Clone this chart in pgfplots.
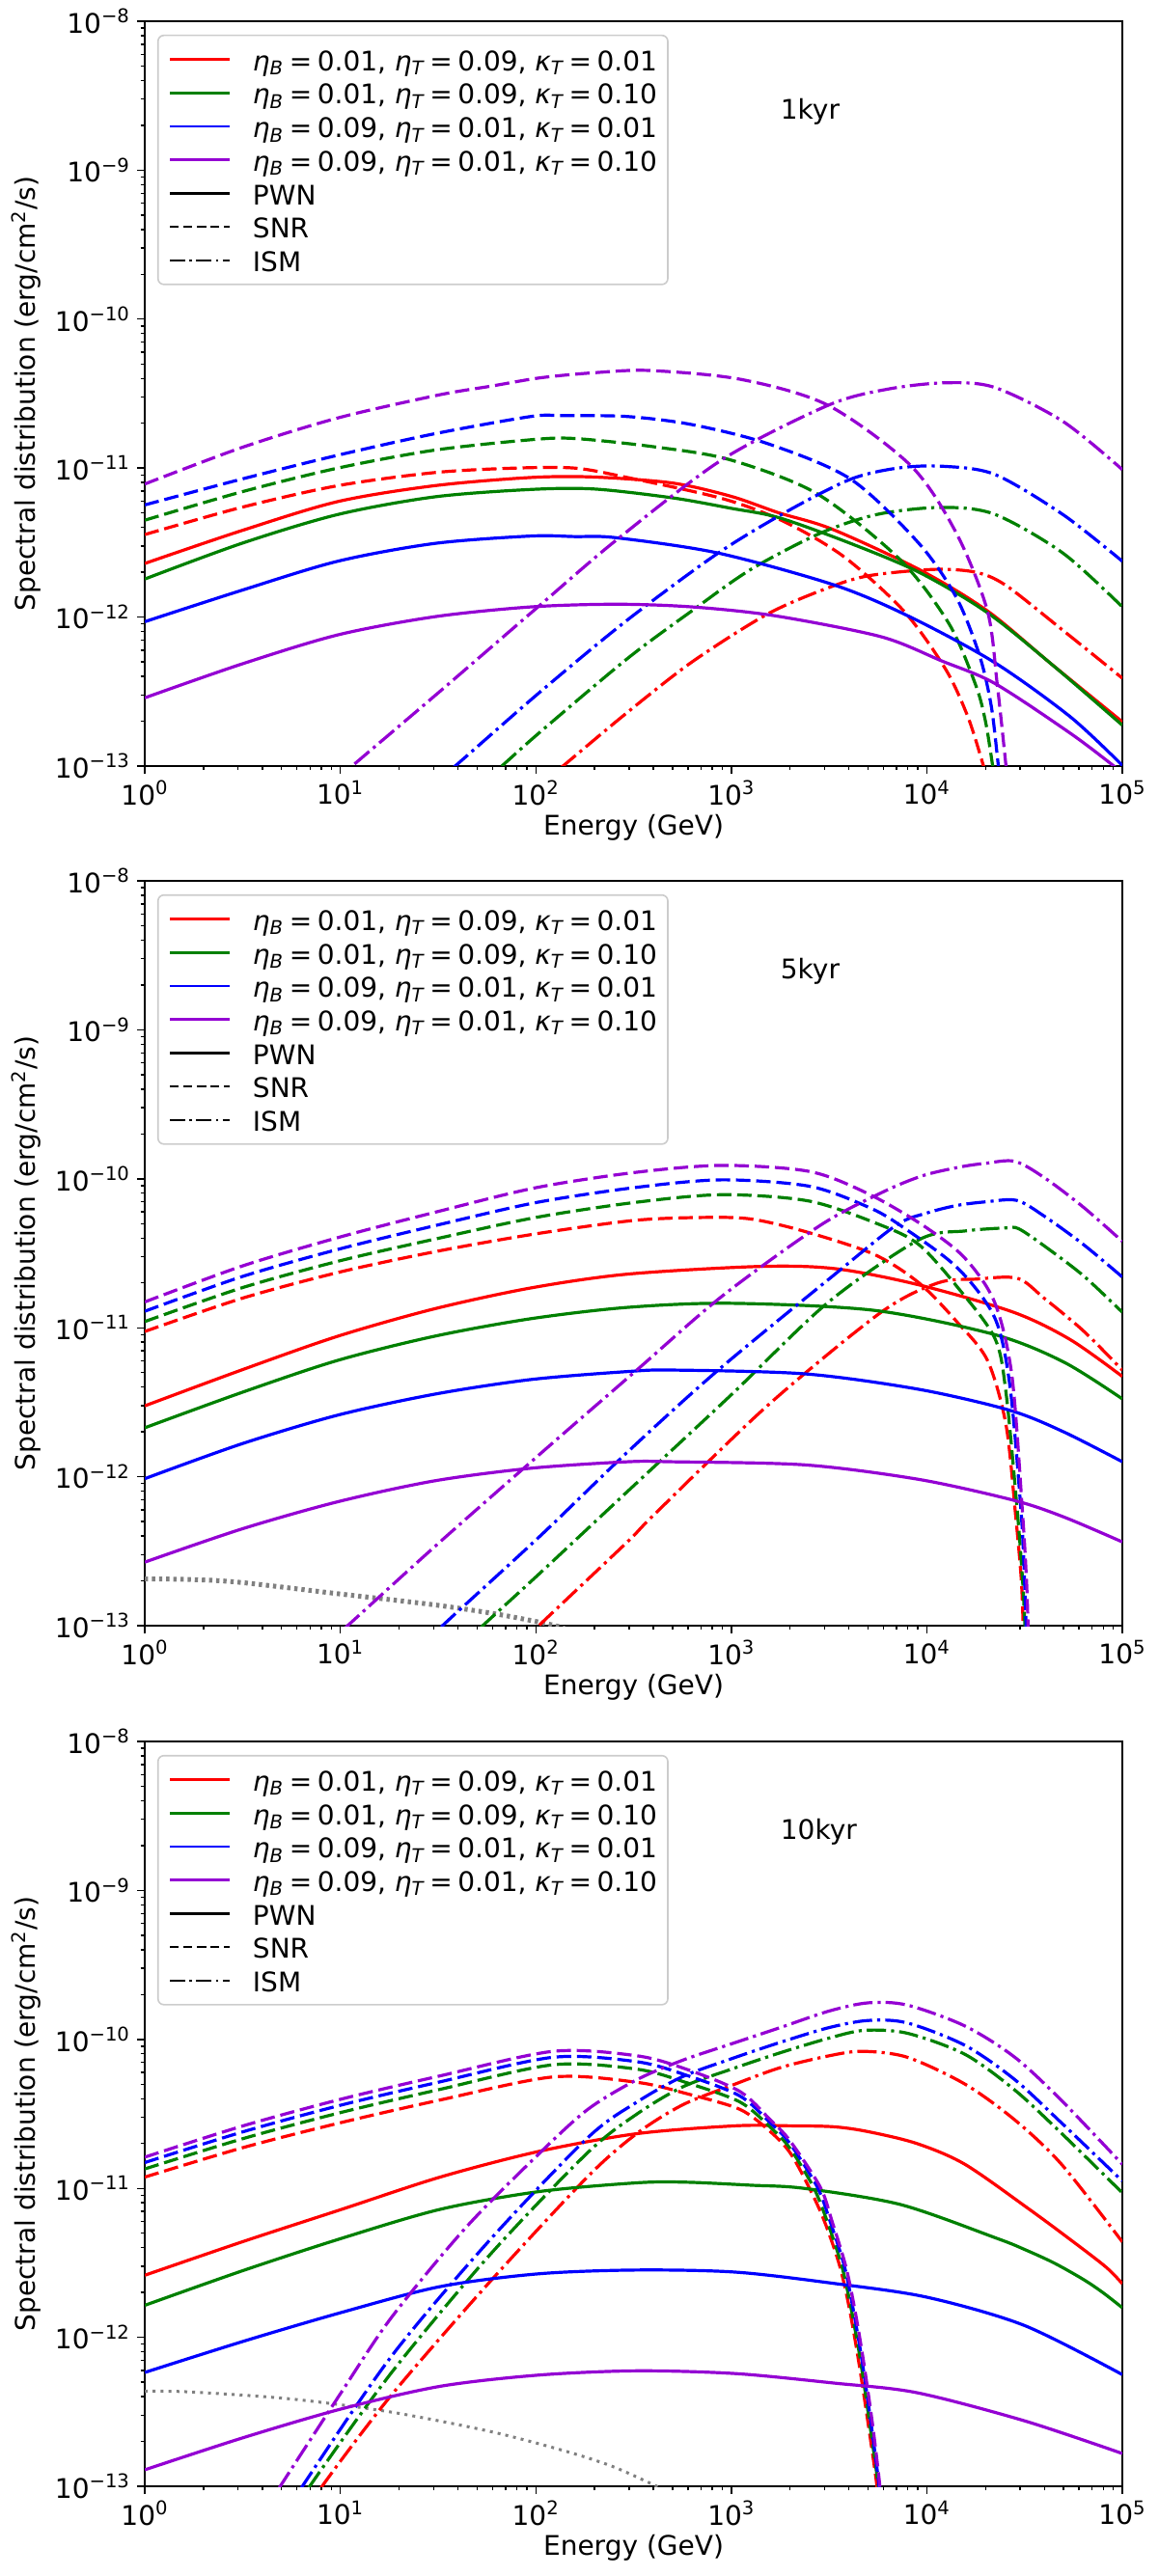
\documentclass[border=0pt]{standalone}
\usepackage{fontspec}
\setmainfont{DejaVu Sans}[ItalicFont={DejaVu Sans Oblique}]
\usepackage{pgfplots}
\pgfplotsset{compat=1.18}

\definecolor{mplgreen}{HTML}{008000}
\definecolor{mplpurple}{HTML}{9400D3}
\definecolor{mplgray}{HTML}{808080}

\newcommand{\eB}{{\itshape η}\textsubscript{\itshape B}}
\newcommand{\eT}{{\itshape η}\textsubscript{\itshape T}}
\newcommand{\kT}{{\itshape κ}\textsubscript{\itshape T}}
\newcommand{\eq}{\hspace{0.2em}=\hspace{0.2em}}

% legend: four parameter sets (colour) and three components (line style)
\newcommand{\legendentries}{%
  \addlegendimage{red, line width=1.3pt}
  \addlegendentry{\eB\eq0.01, \eT\eq0.09, \kT\eq0.01}
  \addlegendimage{mplgreen, line width=1.3pt}
  \addlegendentry{\eB\eq0.01, \eT\eq0.09, \kT\eq0.10}
  \addlegendimage{blue, line width=1.3pt}
  \addlegendentry{\eB\eq0.09, \eT\eq0.01, \kT\eq0.01}
  \addlegendimage{mplpurple, line width=1.3pt}
  \addlegendentry{\eB\eq0.09, \eT\eq0.01, \kT\eq0.10}
  \addlegendimage{black, line width=1.3pt}
  \addlegendentry{PWN}
  \addlegendimage{black, line width=1.3pt, dash pattern=on 4.7pt off 2.3pt}
  \addlegendentry{SNR}
  \addlegendimage{black, line width=1.3pt, dash pattern=on 8pt off 2.2pt on 1.3pt off 2.2pt}
  \addlegendentry{ISM}
}

\pgfplotsset{
  every axis/.append style={
    anchor=south west,
    width=506.5pt, height=386pt, scale only axis,
    xmin=1, xmax=1e5, ymin=1e-13, ymax=1e-8,
    xtick={1,10,100,1000,10000,100000},
    xticklabels={10\textsuperscript{0},10\textsuperscript{1},10\textsuperscript{2},10\textsuperscript{3},10\textsuperscript{4},10\textsuperscript{5}},
    minor xtick={2,3,4,5,6,7,8,9,20,30,40,50,60,70,80,90,200,300,400,500,600,700,800,900,2000,3000,4000,5000,6000,7000,8000,9000,20000,30000,40000,50000,60000,70000,80000,90000},
    ytick={1e-13,1e-12,1e-11,1e-10,1e-9,1e-8},
    yticklabels={10\textsuperscript{−13},10\textsuperscript{−12},10\textsuperscript{−11},10\textsuperscript{−10},10\textsuperscript{−9},10\textsuperscript{−8}},
    minor ytick={2e-13,3e-13,4e-13,5e-13,6e-13,7e-13,8e-13,9e-13,2e-12,3e-12,4e-12,5e-12,6e-12,7e-12,8e-12,9e-12,2e-11,3e-11,4e-11,5e-11,6e-11,7e-11,8e-11,9e-11,2e-10,3e-10,4e-10,5e-10,6e-10,7e-10,8e-10,9e-10,2e-9,3e-9,4e-9,5e-9,6e-9,7e-9,8e-9,9e-9},
    tick align=outside, tick pos=left,
    major tick length=4pt, minor tick length=2.2pt,
    tick style={black, line width=0.7pt},
    axis line style={line width=0.8pt},
    ticklabel style={font=\fontsize{14}{16}\selectfont},
    xlabel={Energy (GeV)},
    ylabel={Spectral distribution (erg/cm\textsuperscript{2}/s)},
    every axis x label/.style={at={(axis description cs:0.5,-0.083)}, anchor=center, font=\fontsize{14}{16}\selectfont},
    every axis y label/.style={at={(axis description cs:-0.1214,0.5)}, rotate=90, anchor=center, font=\fontsize{14}{16}\selectfont},
    legend cell align=left,
    legend image post style={xscale=1.816},
    legend style={at={(0.0128,0.982)}, anchor=north west,
      draw=black!20, line width=0.8pt, rounded corners=3pt, fill=white,
      font=\fontsize{14}{16}\selectfont,
      inner xsep=5.5pt, inner ysep=3.8pt, row sep=0pt, column sep=11.3pt,
      nodes={inner xsep=0pt, inner ysep=0pt, text height=14.5pt, text depth=2.85pt}},
  },
}

\begin{document}
\begin{tikzpicture}
\useasboundingbox (0,0) rectangle (600pt,1335pt);

% ---------------- 1 kyr ----------------
\begin{loglogaxis}[at={(75pt,938pt)}]
\legendentries
\addplot[red, line width=1.6pt, smooth, forget plot] coordinates {(1,2.29e-12)(3.12,3.80e-12)(9.70,5.96e-12)(30.3,7.62e-12)(94.2,8.65e-12)(199.5,8.71e-12)(501,7.94e-12)(1000,6.46e-12)(1750,5.01e-12)(3266,3.90e-12)(9120,2.09e-12)(20420,1.10e-12)(43450,4.83e-13)(100000,1.98e-13)};
\addplot[red, line width=1.6pt, smooth, forget plot, dash pattern=on 7.5pt off 3pt] coordinates {(1,3.58e-12)(3.12,5.45e-12)(9.70,7.62e-12)(30.3,9.33e-12)(78.0,1.00e-11)(158.5,1.00e-11)(293.8,8.65e-12)(897.5,6.25e-12)(1832,4.42e-12)(3741,2.56e-12)(7621,1.10e-12)(12450,4.49e-13)(16220,2.14e-13)(19500,1.0e-13)(20420,7.9e-14)};
\addplot[red, line width=1.6pt, smooth, forget plot, dash pattern=on 10pt off 2.6pt on 1.6pt off 2.6pt] coordinates {(100,7.1e-14)(137.7,1e-13)(293.8,2.29e-13)(631,5.01e-13)(1535,1.05e-12)(3162,1.58e-12)(5105,1.90e-12)(10890,2.09e-12)(17780,2.00e-12)(25410,1.63e-12)(49660,8.15e-13)(100000,3.89e-13)};
\addplot[mplgreen, line width=1.6pt, smooth, forget plot] coordinates {(1,1.80e-12)(3.12,3.12e-12)(9.70,4.88e-12)(30.3,6.41e-12)(94.2,7.19e-12)(199.5,7.24e-12)(502,6.31e-12)(1000,5.37e-12)(1750,4.65e-12)(3981,3.16e-12)(9120,2.00e-12)(20420,1.07e-12)(44670,4.68e-13)(100000,1.88e-13)};
\addplot[mplgreen, line width=1.6pt, smooth, forget plot, dash pattern=on 7.5pt off 3pt] coordinates {(1,4.47e-12)(3.12,6.92e-12)(9.70,1.00e-11)(30.3,1.32e-11)(94.2,1.55e-11)(158.5,1.58e-11)(402.7,1.39e-11)(979.5,1.14e-11)(2735,6.75e-12)(7295,2.43e-12)(13000,9.00e-13)(17780,3.50e-13)(19950,2.00e-13)(21730,1.0e-13)(22910,6.3e-14)};
\addplot[mplgreen, line width=1.6pt, smooth, forget plot, dash pattern=on 10pt off 2.6pt on 1.6pt off 2.6pt] coordinates {(50.1,7.2e-14)(67.0,1e-13)(105.7,1.70e-13)(293.8,5.26e-13)(628.1,1.10e-12)(1259,2.09e-12)(2858,3.66e-12)(5623,4.90e-12)(11910,5.45e-12)(22230,4.90e-12)(49660,2.69e-12)(100000,1.17e-12)};
\addplot[blue, line width=1.6pt, smooth, forget plot] coordinates {(1,9.31e-13)(3.12,1.51e-12)(9.70,2.37e-12)(30.3,3.12e-12)(94.2,3.50e-12)(158.5,3.47e-12)(257.6,3.41e-12)(857,2.69e-12)(3420,1.63e-12)(8337,9.93e-13)(22230,4.95e-13)(54200,2.14e-13)(100000,1.01e-13)};
\addplot[blue, line width=1.6pt, smooth, forget plot, dash pattern=on 7.5pt off 3pt] coordinates {(1,5.66e-12)(3.12,8.43e-12)(9.70,1.22e-11)(30.3,1.70e-11)(94.2,2.22e-11)(138,2.25e-11)(293.8,2.22e-11)(628.1,1.96e-11)(1535,1.46e-11)(4083,8.43e-12)(9120,3.12e-12)(14220,1.34e-12)(18620,5.50e-13)(21380,2.51e-13)(23230,1.0e-13)(24270,6.3e-14)};
\addplot[blue, line width=1.6pt, smooth, forget plot, dash pattern=on 10pt off 2.6pt on 1.6pt off 2.6pt] coordinates {(28.2,7.08e-14)(38.7,1e-13)(105.7,3.16e-13)(293.8,9.55e-13)(857,2.69e-12)(1995,5.25e-12)(4083,8.43e-12)(7079,1.00e-11)(11910,1.03e-11)(22230,9.08e-12)(49660,4.88e-12)(100000,2.37e-12)};
\addplot[mplpurple, line width=1.6pt, smooth, forget plot] coordinates {(1,2.87e-13)(3.12,4.83e-13)(9.70,7.59e-13)(30.3,1.005e-12)(94.2,1.17e-12)(257.6,1.22e-12)(631,1.17e-12)(1675,1.02e-12)(5834,7.38e-13)(11910,5.08e-13)(22230,3.59e-13)(54200,1.66e-13)(90570,1.0e-13)(100000,9.0e-14)};
\addplot[mplpurple, line width=1.6pt, smooth, forget plot, dash pattern=on 7.5pt off 3pt] coordinates {(1,7.82e-12)(3.162,1.38e-11)(9.70,2.17e-11)(31.6,3.09e-11)(59.8,3.56e-11)(105.7,4.04e-11)(199.5,4.37e-11)(384.6,4.52e-11)(1122,3.94e-11)(3126,2.64e-11)(8337,1.03e-11)(14220,3.62e-12)(20420,1.10e-12)(22910,3.55e-13)(25410,1.0e-13)(26300,6.3e-14)};
\addplot[mplpurple, line width=1.6pt, smooth, forget plot, dash pattern=on 10pt off 2.6pt on 1.6pt off 2.6pt] coordinates {(8.9,7.4e-14)(11.5,1e-13)(31.6,3.09e-13)(105.7,1.21e-12)(257.6,3.28e-12)(897.5,1.14e-11)(3126,2.64e-11)(6310,3.39e-11)(12470,3.74e-11)(22230,3.48e-11)(49660,2.06e-11)(100000,9.77e-12)};
\node[anchor=base west, inner sep=0pt, font=\fontsize{14}{16}\selectfont] at (axis cs:1780,2.2e-9) {1kyr};
\end{loglogaxis}

% ---------------- 5 kyr ----------------
\begin{loglogaxis}[at={(75pt,492.5pt)}]
\legendentries
\addplot[mplgray, line width=2.5pt, smooth, forget plot, dash pattern=on 1.7pt off 2pt] coordinates {(1,2.06e-13)(1.778,2.04e-13)(3.12,1.95e-13)(9.70,1.64e-13)(30.3,1.38e-13)(64.6,1.19e-13)(126,1.0e-13)(158.5,8.9e-14)};
\addplot[red, line width=1.6pt, smooth, forget plot] coordinates {(1,2.99e-12)(3.12,5.20e-12)(9.70,8.77e-12)(30.3,1.34e-11)(94.2,1.85e-11)(293.8,2.29e-11)(1403,2.58e-11)(3420,2.49e-11)(9120,1.94e-11)(27800,1.27e-11)(54200,8.32e-12)(100000,4.71e-12)};
\addplot[red, line width=1.6pt, smooth, forget plot, dash pattern=on 7.5pt off 3pt] coordinates {(1,9.44e-12)(3.162,1.58e-11)(10,2.37e-11)(31.6,3.27e-11)(100,4.27e-11)(316.2,5.25e-11)(707.9,5.50e-11)(1259,5.37e-11)(2393,4.42e-11)(5346,3.12e-11)(9120,2.00e-11)(14220,1.10e-11)(20420,6.04e-12)(25410,2.23e-12)(28440,5.56e-13)(30410,2.06e-13)(31120,1.0e-13)(31620,6.0e-14)};
\addplot[red, line width=1.6pt, smooth, forget plot, dash pattern=on 10pt off 2.6pt on 1.6pt off 2.6pt] coordinates {(79.4,7.1e-14)(103.5,1e-13)(293.8,3.65e-13)(402.7,5.56e-13)(1535,3.01e-12)(5834,1.27e-11)(11400,2.00e-11)(17820,2.12e-11)(29040,2.15e-11)(39810,1.58e-11)(63100,9.55e-12)(100000,5.20e-12)};
\addplot[mplgreen, line width=1.6pt, smooth, forget plot] coordinates {(1,2.13e-12)(3.12,3.67e-12)(9.70,6.04e-12)(30.3,8.77e-12)(94.2,1.15e-11)(293.8,1.37e-11)(979.5,1.46e-11)(5346,1.31e-11)(22230,9.00e-12)(50120,5.89e-12)(100000,3.33e-12)};
\addplot[mplgreen, line width=1.6pt, smooth, forget plot, dash pattern=on 7.5pt off 3pt] coordinates {(1,1.10e-11)(3.162,1.86e-11)(10,2.82e-11)(31.6,3.98e-11)(100,5.50e-11)(316.2,6.92e-11)(891,7.82e-11)(2512,7.08e-11)(5834,4.88e-11)(9120,3.61e-11)(14220,1.90e-11)(22230,8.55e-12)(25410,3.67e-12)(29110,5.62e-13)(30900,2.00e-13)(31770,1.0e-13)(32360,6.0e-14)};
\addplot[mplgreen, line width=1.6pt, smooth, forget plot, dash pattern=on 10pt off 2.6pt on 1.6pt off 2.6pt] coordinates {(39.8,6.9e-14)(53.5,1e-13)(105.7,2.27e-13)(293.8,7.94e-13)(1000,3.55e-12)(3126,1.48e-11)(9120,3.90e-11)(15850,4.47e-11)(25410,4.68e-11)(29510,4.62e-11)(39810,3.55e-11)(63100,2.24e-11)(100000,1.27e-11)};
\addplot[blue, line width=1.6pt, smooth, forget plot] coordinates {(1,9.70e-13)(3.12,1.66e-12)(9.70,2.59e-12)(30.3,3.58e-12)(94.2,4.49e-12)(293.8,5.08e-12)(502.3,5.20e-12)(2393,4.90e-12)(9120,3.86e-12)(26610,2.79e-12)(50120,2.00e-12)(100000,1.26e-12)};
\addplot[blue, line width=1.6pt, smooth, forget plot, dash pattern=on 7.5pt off 3pt] coordinates {(1,1.29e-11)(3.162,2.21e-11)(10,3.39e-11)(31.6,4.90e-11)(100,6.92e-11)(316.2,8.71e-11)(891,9.84e-11)(2512,8.91e-11)(5012,6.46e-11)(7295,4.88e-11)(14220,2.55e-11)(22230,1.17e-11)(26610,4.07e-12)(30410,5.62e-13)(31620,2.00e-13)(32210,1.0e-13)(32730,6.0e-14)};
\addplot[blue, line width=1.6pt, smooth, forget plot, dash pattern=on 10pt off 2.6pt on 1.6pt off 2.6pt] coordinates {(25.1,6.9e-14)(33.3,1e-13)(105.7,4.02e-13)(293.8,1.46e-12)(857,5.20e-12)(3420,2.31e-11)(6982,4.88e-11)(10000,5.89e-11)(14130,6.61e-11)(19950,7.00e-11)(28840,7.16e-11)(39810,5.62e-11)(63100,3.63e-11)(100000,2.19e-11)};
\addplot[mplpurple, line width=1.6pt, smooth, forget plot] coordinates {(1,2.67e-13)(3.12,4.45e-13)(9.70,6.79e-13)(30.3,9.38e-13)(94.2,1.14e-12)(293.8,1.26e-12)(502.3,1.26e-12)(2393,1.20e-12)(9120,9.59e-13)(27800,6.95e-13)(50120,5.37e-13)(100000,3.65e-13)};
\addplot[mplpurple, line width=1.6pt, smooth, forget plot, dash pattern=on 7.5pt off 3pt] coordinates {(1,1.49e-11)(3.162,2.60e-11)(10,4.07e-11)(31.6,6.03e-11)(100,8.71e-11)(316.2,1.10e-10)(891,1.23e-10)(2512,1.12e-10)(5012,7.94e-11)(9528,4.88e-11)(15560,2.96e-11)(22230,1.48e-11)(27230,4.79e-12)(30900,5.62e-13)(32360,2.00e-13)(32960,1.0e-13)(33500,6.0e-14)};
\addplot[mplpurple, line width=1.6pt, smooth, forget plot, dash pattern=on 10pt off 2.6pt on 1.6pt off 2.6pt] coordinates {(7.94,6.9e-14)(10.9,1e-13)(31.6,3.55e-13)(105.7,1.43e-12)(321.4,5.07e-12)(897.5,1.63e-11)(2858,4.88e-11)(5984,8.17e-11)(9550,1.05e-10)(14790,1.20e-10)(19950,1.27e-10)(28180,1.31e-10)(39810,1.02e-10)(63100,6.46e-11)(100000,3.80e-11)};
\node[anchor=base west, inner sep=0pt, font=\fontsize{14}{16}\selectfont] at (axis cs:1780,2.2e-9) {5kyr};
\end{loglogaxis}

% ---------------- 10 kyr ----------------
\begin{loglogaxis}[at={(75pt,46.5pt)}]
\legendentries
\addplot[mplgray, line width=1.5pt, smooth, forget plot, dash pattern=on 1.5pt off 2.6pt] coordinates {(1,4.36e-13)(1.778,4.29e-13)(5.69,3.85e-13)(18.2,3.15e-13)(57.9,2.34e-13)(138,1.74e-13)(246.6,1.36e-13)(415.9,1.0e-13)(501,8.9e-14)};
\addplot[red, line width=1.6pt, smooth, forget plot] coordinates {(1,2.61e-12)(3.19,4.40e-12)(10.16,7.23e-12)(32.4,1.19e-11)(103.5,1.77e-11)(329.6,2.33e-11)(1052,2.63e-11)(1995,2.63e-11)(3357,2.59e-11)(5035,2.40e-11)(8892,2.00e-11)(15670,1.45e-11)(33420,7.24e-12)(56230,4.37e-12)(82790,2.95e-12)(100000,2.29e-12)};
\addplot[red, line width=1.6pt, smooth, forget plot, dash pattern=on 7.5pt off 3pt] coordinates {(1,1.19e-11)(3.19,1.88e-11)(10.16,2.77e-11)(32.4,3.92e-11)(123,5.60e-11)(329.6,5.15e-11)(588.8,4.33e-11)(1107,3.39e-11)(1585,2.40e-11)(1995,1.74e-11)(2449,1.07e-11)(2951,6.31e-12)(3548,3.16e-12)(3981,1.66e-12)(4467,7.08e-13)(5012,2.63e-13)(5559,1.0e-13)(5702,6.0e-14)};
\addplot[red, line width=1.6pt, smooth, forget plot, dash pattern=on 10pt off 2.6pt on 1.6pt off 2.6pt] coordinates {(6.61,6.3e-14)(8.07,1e-13)(18.2,4.07e-13)(57.9,2.34e-12)(184.5,1.20e-11)(329.6,2.34e-11)(562.3,3.63e-11)(1000,4.90e-11)(1778,6.46e-11)(3162,7.76e-11)(4677,8.32e-11)(7943,7.59e-11)(15670,5.01e-11)(28180,2.88e-11)(48870,1.45e-11)(100000,4.37e-12)};
\addplot[mplgreen, line width=1.6pt, smooth, forget plot] coordinates {(1,1.64e-12)(3.19,2.81e-12)(10.16,4.62e-12)(32.4,7.23e-12)(103.5,9.51e-12)(329.6,1.09e-11)(588.8,1.10e-11)(1259,1.05e-11)(2360,1.00e-11)(7362,7.78e-12)(22910,4.61e-12)(31620,3.89e-12)(44670,3.16e-12)(63100,2.45e-12)(79430,2.00e-12)(100000,1.58e-12)};
\addplot[mplgreen, line width=1.6pt, smooth, forget plot, dash pattern=on 7.5pt off 3pt] coordinates {(1,1.35e-11)(3.19,2.16e-11)(10.16,3.24e-11)(32.4,4.62e-11)(123,6.76e-11)(329.6,6.31e-11)(588.8,5.13e-11)(1107,3.80e-11)(1585,2.57e-11)(1995,1.86e-11)(2630,1.02e-11)(3090,6.03e-12)(3673,3.02e-12)(4093,1.58e-12)(4571,7.08e-13)(5105,2.63e-13)(5649,1.0e-13)(5794,6.0e-14)};
\addplot[mplgreen, line width=1.6pt, smooth, forget plot, dash pattern=on 10pt off 2.6pt on 1.6pt off 2.6pt] coordinates {(5.75,6.3e-14)(6.98,1e-13)(18.2,5.75e-13)(57.9,3.55e-12)(184.5,1.74e-11)(329.6,3.16e-11)(562.3,4.79e-11)(1000,6.31e-11)(1778,8.13e-11)(3162,1.02e-10)(4786,1.15e-10)(7943,1.10e-10)(15670,7.94e-11)(28180,4.57e-11)(48870,2.34e-11)(100000,9.33e-12)};
\addplot[blue, line width=1.6pt, smooth, forget plot] coordinates {(1,5.81e-13)(3.19,9.40e-13)(10.16,1.47e-12)(32.4,2.19e-12)(103.5,2.67e-12)(329.6,2.83e-12)(1052,2.74e-12)(3357,2.30e-12)(10000,1.86e-12)(31620,1.20e-12)(100000,5.62e-13)};
\addplot[blue, line width=1.6pt, smooth, forget plot, dash pattern=on 7.5pt off 3pt] coordinates {(1,1.49e-11)(3.19,2.40e-11)(10.16,3.63e-11)(32.4,5.19e-11)(123,7.59e-11)(329.6,7.08e-11)(588.8,5.75e-11)(1107,4.17e-11)(1585,2.75e-11)(1995,2.00e-11)(2754,1.02e-11)(3199,6.03e-12)(3784,3.02e-12)(4188,1.58e-12)(4656,7.08e-13)(5188,2.63e-13)(5702,1.0e-13)(5848,6.0e-14)};
\addplot[blue, line width=1.6pt, smooth, forget plot, dash pattern=on 10pt off 2.6pt on 1.6pt off 2.6pt] coordinates {(5.25,6.3e-14)(6.40,1e-13)(18.2,7.41e-13)(57.9,4.47e-12)(184.5,2.19e-11)(329.6,3.80e-11)(562.3,5.62e-11)(1000,7.41e-11)(1778,9.55e-11)(3162,1.20e-10)(5012,1.34e-10)(7943,1.29e-10)(15670,9.12e-11)(28180,5.37e-11)(48870,2.75e-11)(100000,1.12e-11)};
\addplot[mplpurple, line width=1.6pt, smooth, forget plot] coordinates {(1,1.29e-13)(3.19,2.12e-13)(10.16,3.31e-13)(32.4,4.69e-13)(103.5,5.58e-13)(329.6,5.96e-13)(1052,5.71e-13)(3357,4.93e-13)(8892,4.25e-13)(31620,2.75e-13)(100000,1.66e-13)};
\addplot[mplpurple, line width=1.6pt, smooth, forget plot, dash pattern=on 7.5pt off 3pt] coordinates {(1,1.62e-11)(3.19,2.63e-11)(10.16,3.98e-11)(32.4,5.69e-11)(123,8.32e-11)(329.6,7.76e-11)(588.8,6.31e-11)(1107,4.47e-11)(1585,2.88e-11)(1995,2.09e-11)(2851,1.02e-11)(3273,6.03e-12)(3846,3.02e-12)(4266,1.58e-12)(4732,7.08e-13)(5272,2.63e-13)(5754,1.0e-13)(5902,6.0e-14)};
\addplot[mplpurple, line width=1.6pt, smooth, forget plot, dash pattern=on 10pt off 2.6pt on 1.6pt off 2.6pt] coordinates {(3.98,6.3e-14)(4.93,1e-13)(10,4.17e-13)(18.2,1.35e-12)(43.4,5.37e-12)(103.5,1.70e-11)(184.5,3.39e-11)(329.6,5.37e-11)(562.3,7.24e-11)(1000,9.33e-11)(1778,1.20e-10)(3162,1.55e-10)(5012,1.76e-10)(7943,1.70e-10)(15670,1.23e-10)(28180,7.59e-11)(48870,3.89e-11)(100000,1.45e-11)};
\node[anchor=base west, inner sep=0pt, font=\fontsize{14}{16}\selectfont] at (axis cs:1780,2.2e-9) {10kyr};
\end{loglogaxis}
\end{tikzpicture}
\end{document}
